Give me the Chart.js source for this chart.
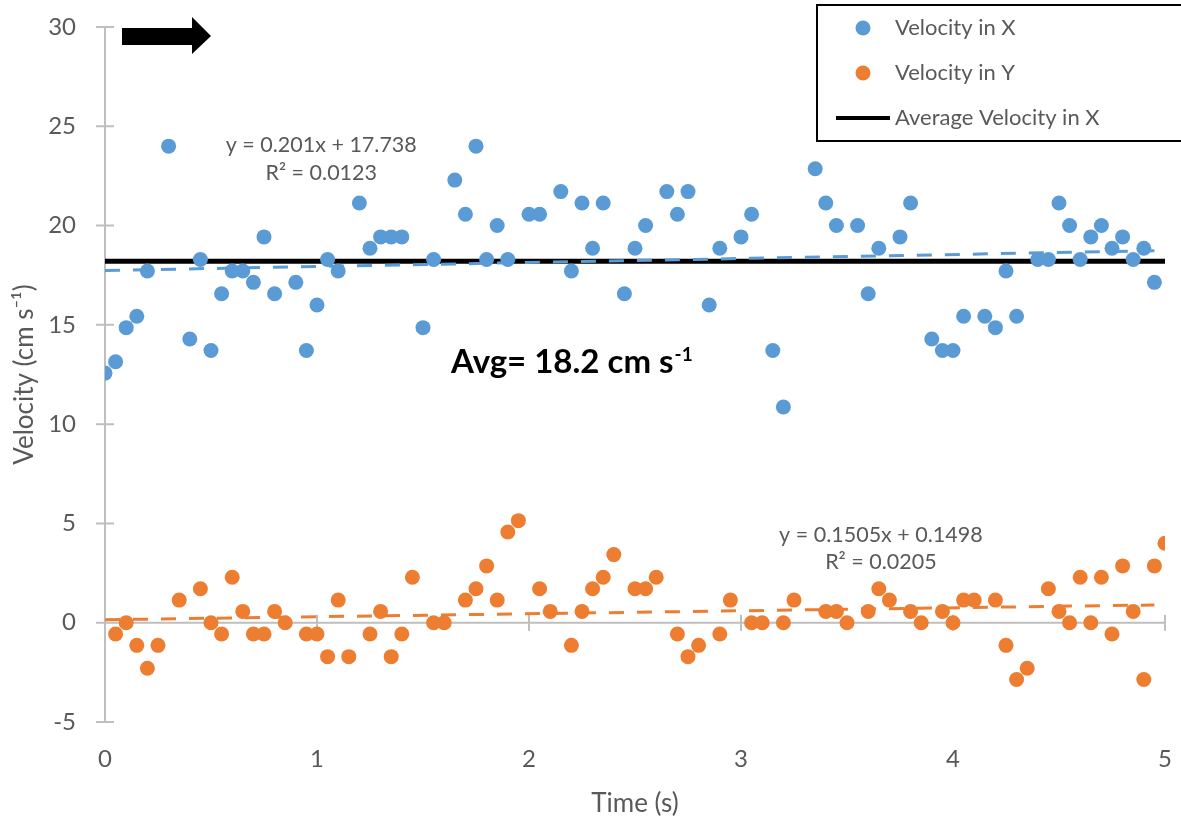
<!DOCTYPE html>
<html>
<head>
<meta charset="utf-8">
<title>Velocity vs Time</title>
<script src="https://cdn.jsdelivr.net/npm/chart.js@4.4.0/dist/chart.umd.min.js"></script>
<style>
  html, body { margin: 0; padding: 0; background: #fff; }
  #chart { display: block; }
</style>
</head>
<body>
<canvas id="chart" width="1181" height="822"></canvas>
<script>
// sample times (s), one reading every 0.05 s
const time = [
  0.00, 0.05, 0.10, 0.15, 0.20, 0.25, 0.30, 0.35, 0.40, 0.45,
  0.50, 0.55, 0.60, 0.65, 0.70, 0.75, 0.80, 0.85, 0.90, 0.95,
  1.00, 1.05, 1.10, 1.15, 1.20, 1.25, 1.30, 1.35, 1.40, 1.45,
  1.50, 1.55, 1.60, 1.65, 1.70, 1.75, 1.80, 1.85, 1.90, 1.95,
  2.00, 2.05, 2.10, 2.15, 2.20, 2.25, 2.30, 2.35, 2.40, 2.45,
  2.50, 2.55, 2.60, 2.65, 2.70, 2.75, 2.80, 2.85, 2.90, 2.95,
  3.00, 3.05, 3.10, 3.15, 3.20, 3.25, 3.30, 3.35, 3.40, 3.45,
  3.50, 3.55, 3.60, 3.65, 3.70, 3.75, 3.80, 3.85, 3.90, 3.95,
  4.00, 4.05, 4.10, 4.15, 4.20, 4.25, 4.30, 4.35, 4.40, 4.45,
  4.50, 4.55, 4.60, 4.65, 4.70, 4.75, 4.80, 4.85, 4.90, 4.95,
  5.00
];

// velocity in x (cm/s), null where no reading
const velX = [
  12.57, 13.14, 14.86, 15.43, 17.71, null, 24.00, null, 14.29, 18.29,
  13.71, 16.57, 17.71, 17.71, 17.14, 19.43, 16.57, null, 17.14, 13.71,
  16.00, 18.29, 17.71, null, 21.14, 18.86, 19.43, 19.43, 19.43, null,
  14.86, 18.29, null, 22.29, 20.57, 24.00, 18.29, 20.00, 18.29, null,
  20.57, 20.57, null, 21.71, 17.71, 21.14, 18.86, 21.14, null, 16.57,
  18.86, 20.00, null, 21.71, 20.57, 21.71, null, 16.00, 18.86, null,
  19.43, 20.57, null, 13.71, 10.86, null, null, 22.86, 21.14, 20.00,
  null, 20.00, 16.57, 18.86, null, 19.43, 21.14, null, 14.29, 13.71,
  13.71, 15.43, null, 15.43, 14.86, 17.71, 15.43, null, 18.29, 18.29,
  21.14, 20.00, 18.29, 19.43, 20.00, 18.86, 19.43, 18.29, 18.86, 17.14,
  null
];

// velocity in y (cm/s)
const velY = [
  null, -0.57, 0.00, -1.14, -2.29, -1.14, null, 1.14, null, 1.71,
  0.00, -0.57, 2.29, 0.57, -0.57, -0.57, 0.57, 0.00, null, -0.57,
  -0.57, -1.71, 1.14, -1.71, null, -0.57, 0.57, -1.71, -0.57, 2.29,
  null, 0.00, 0.00, null, 1.14, 1.71, 2.86, 1.14, 4.57, 5.14,
  null, 1.71, 0.57, null, -1.14, 0.57, 1.71, 2.29, 3.43, null,
  1.71, 1.71, 2.29, null, -0.57, -1.71, -1.14, null, -0.57, 1.14,
  null, 0.00, 0.00, null, 0.00, 1.14, null, null, 0.57, 0.57,
  0.00, null, 0.57, 1.71, 1.14, null, 0.57, 0.00, null, 0.57,
  0.00, 1.14, 1.14, null, 1.14, -1.14, -2.86, -2.29, null, 1.71,
  0.57, 0.00, 2.29, 0.00, 2.29, -0.57, 2.86, 0.57, -2.86, 2.86,
  4.00
];

// linear trendlines (end points) and the average of x velocity
const trendTime = [0, 4.95];
const trendX = [17.738, 18.733];
const trendY = [0.150, 0.895];
const avgTime = [0, 5];
const avgX = [18.2, 18.2];

const xTicks = [0, 1, 2, 3, 4, 5];
const yTicks = [-5, 0, 5, 10, 15, 20, 25, 30];

const BLUE = '#5B9BD5';
const ORANGE = '#ED7D31';
const GREY = '#595959';
const AXIS = '#BFBFBF';
const FONT = 'Lato, "Open Sans", sans-serif';

function pts(xs, ys) {
  const out = [];
  xs.forEach((x, i) => { if (ys[i] !== null) out.push({x: x, y: ys[i]}); });
  return out;
}

// axis lines with crossing tick marks (x axis sits at y = 0)
const axesPlugin = {
  id: 'axesLines',
  beforeDatasetsDraw(chart) {
    const ctx = chart.ctx;
    const xs = chart.scales.x, ys = chart.scales.y;
    const x0 = xs.getPixelForValue(0);
    const y0 = ys.getPixelForValue(0);
    ctx.save();
    ctx.strokeStyle = AXIS;
    ctx.lineWidth = 2;
    ctx.beginPath();
    ctx.moveTo(x0, ys.getPixelForValue(yTicks[yTicks.length - 1]));
    ctx.lineTo(x0, ys.getPixelForValue(yTicks[0]));
    yTicks.forEach(v => {
      const p = ys.getPixelForValue(v);
      ctx.moveTo(x0 - 9, p); ctx.lineTo(x0 + 9, p);
    });
    ctx.moveTo(xs.getPixelForValue(xTicks[0]), y0);
    ctx.lineTo(xs.getPixelForValue(xTicks[xTicks.length - 1]), y0);
    xTicks.forEach(v => {
      const p = xs.getPixelForValue(v);
      ctx.moveTo(p, y0 - 8); ctx.lineTo(p, y0 + 8);
    });
    ctx.stroke();
    ctx.restore();
  }
};

// trendline labels, average note, arrow and the boxed legend
const notesPlugin = {
  id: 'notes',
  afterDatasetsDraw(chart) {
    const ctx = chart.ctx;
    const xs = chart.scales.x, ys = chart.scales.y;
    const area = chart.chartArea;
    ctx.save();

    ctx.fillStyle = GREY;
    ctx.font = '21.5px ' + FONT;
    ctx.textAlign = 'center';
    ctx.textBaseline = 'middle';
    ctx.fillText('y = 0.201x + 17.738', xs.getPixelForValue(1.02), ys.getPixelForValue(24.05));
    ctx.fillText('R\u00B2 = 0.0123', xs.getPixelForValue(1.02), ys.getPixelForValue(22.65));
    ctx.fillText('y = 0.1505x + 0.1498', xs.getPixelForValue(3.66), ys.getPixelForValue(4.43));
    ctx.fillText('R\u00B2 = 0.0205', xs.getPixelForValue(3.66), ys.getPixelForValue(3.07));

    // Avg= 18.2 cm s^-1
    const main = 'Avg= 18.2 cm s', sup = '-1';
    ctx.fillStyle = '#000';
    ctx.textAlign = 'left';
    ctx.textBaseline = 'alphabetic';
    ctx.font = 'bold 33px ' + FONT;
    const w1 = ctx.measureText(main).width;
    ctx.font = 'bold 19px ' + FONT;
    const w2 = ctx.measureText(sup).width;
    const cx = xs.getPixelForValue(2.2);
    const base = ys.getPixelForValue(12.6);
    const sx = cx - (w1 + w2) / 2;
    ctx.font = 'bold 33px ' + FONT;
    ctx.fillText(main, sx, base);
    ctx.font = 'bold 19px ' + FONT;
    ctx.fillText(sup, sx + w1 + 1, base - 12);

    // arrow in the top left corner
    const ax = area.left, ay = area.top;
    ctx.fillStyle = '#000';
    ctx.beginPath();
    ctx.moveTo(ax + 17, ay + 1);
    ctx.lineTo(ax + 87, ay + 1);
    ctx.lineTo(ax + 87, ay - 10);
    ctx.lineTo(ax + 106, ay + 9);
    ctx.lineTo(ax + 87, ay + 27);
    ctx.lineTo(ax + 87, ay + 18);
    ctx.lineTo(ax + 17, ay + 18);
    ctx.closePath();
    ctx.fill();

    // legend box
    const lx = 817, ly = 5;
    ctx.strokeStyle = '#000';
    ctx.lineWidth = 2;
    ctx.strokeRect(lx, ly, chart.width - lx + 10, 136);
    const items = chart.data.datasets.filter(d => d.legendRow !== undefined);
    ctx.font = '22px ' + FONT;
    ctx.textBaseline = 'middle';
    items.forEach(d => {
      const y = ly + 23 + d.legendRow * 45;
      if (d.showLine) {
        ctx.strokeStyle = d.borderColor;
        ctx.lineWidth = 4;
        ctx.beginPath();
        ctx.moveTo(lx + 19, y); ctx.lineTo(lx + 73, y);
        ctx.stroke();
      } else {
        ctx.fillStyle = d.backgroundColor;
        ctx.beginPath();
        ctx.arc(lx + 46, y, 7.5, 0, Math.PI * 2);
        ctx.fill();
      }
      ctx.fillStyle = GREY;
      ctx.fillText(d.label, lx + 78, y);
    });
    ctx.restore();
  }
};

function draw() {
  new Chart(document.getElementById('chart'), {
    type: 'scatter',
    data: {
      datasets: [
        {
          label: 'Velocity in X',
          legendRow: 0,
          data: pts(time, velX),
          backgroundColor: BLUE,
          borderColor: BLUE,
          pointRadius: 7.5,
          pointBorderWidth: 0,
          order: 0
        },
        {
          label: 'Velocity in Y',
          legendRow: 1,
          data: pts(time, velY),
          backgroundColor: ORANGE,
          borderColor: ORANGE,
          pointRadius: 7.5,
          pointBorderWidth: 0,
          order: 0
        },
        {
          label: 'Average Velocity in X',
          legendRow: 2,
          data: pts(avgTime, avgX),
          showLine: true,
          borderColor: '#000',
          borderWidth: 5,
          pointRadius: 0,
          order: 2
        },
        {
          label: 'Linear (Velocity in X)',
          data: pts(trendTime, trendX),
          showLine: true,
          borderColor: BLUE,
          borderWidth: 3,
          borderDash: [15, 13],
          pointRadius: 0,
          order: 1
        },
        {
          label: 'Linear (Velocity in Y)',
          data: pts(trendTime, trendY),
          showLine: true,
          borderColor: ORANGE,
          borderWidth: 3,
          borderDash: [15, 13],
          pointRadius: 0,
          order: 1
        }
      ]
    },
    options: {
      responsive: false,
      animation: false,
      devicePixelRatio: 1,
      layout: { padding: { top: 27, right: 16, left: 0, bottom: 0 } },
      plugins: {
        legend: { display: false },
        tooltip: { enabled: false }
      },
      scales: {
        x: {
          type: 'linear',
          min: 0,
          max: 5,
          afterBuildTicks: s => { s.ticks = xTicks.map(v => ({value: v})); },
          ticks: { color: GREY, font: { family: FONT, size: 24 }, padding: 0 },
          // invisible tick marks just push the labels down
          grid: { display: true, drawOnChartArea: false, drawTicks: true, tickLength: 23, tickColor: 'rgba(0,0,0,0)' },
          border: { display: false },
          title: {
            display: true,
            text: 'Time (s)',
            color: GREY,
            font: { family: FONT, size: 26 },
            padding: { top: 0, bottom: 3 }
          },
          afterFit: s => { s.height = 100; }
        },
        y: {
          min: -5,
          max: 30,
          afterBuildTicks: s => { s.ticks = yTicks.map(v => ({value: v})); },
          ticks: { color: GREY, font: { family: FONT, size: 24 }, padding: 0 },
          grid: { display: true, drawOnChartArea: false, drawTicks: true, tickLength: 29, tickColor: 'rgba(0,0,0,0)' },
          border: { display: false },
          title: {
            display: true,
            text: 'Velocity (cm s\u207B\u00B9)',
            color: GREY,
            font: { family: FONT, size: 26 },
            padding: { top: 9, bottom: 0 }
          },
          afterFit: s => { s.width = 105; }
        }
      }
    },
    plugins: [axesPlugin, notesPlugin]
  });
}

Promise.all([
  document.fonts.load('24px Lato'),
  document.fonts.load('bold 33px Lato')
]).then(draw, draw);
</script>
</body>
</html>
